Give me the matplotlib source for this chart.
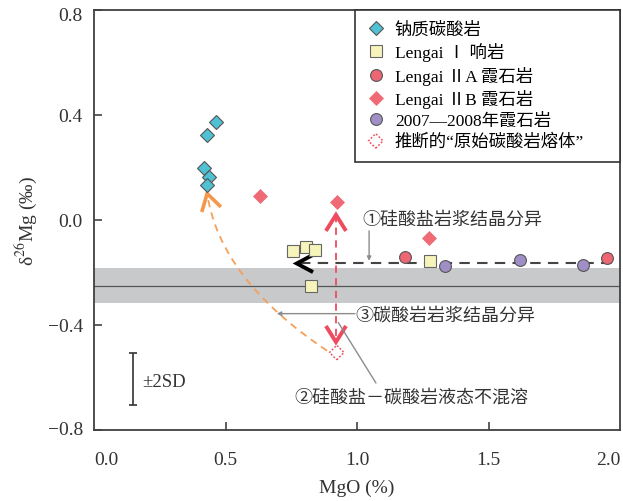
import numpy as np
import matplotlib
matplotlib.use('Agg')
import matplotlib.pyplot as plt
import matplotlib.transforms as mtransforms
from matplotlib.path import Path
from matplotlib.patches import PathPatch

plt.rcParams['font.family'] = ['Liberation Serif', 'Noto Sans CJK SC', 'DejaVu Sans']
plt.rcParams['mathtext.fontset'] = 'stix'

# 数据 (MgO %, δ26Mg ‰)
natro_mgo = [0.464, 0.428, 0.419, 0.436, 0.428]
natro_d26 = [0.371, 0.324, 0.196, 0.164, 0.132]
lengai1_mgo = [0.758, 0.806, 0.840, 0.825, 1.278]
lengai1_d26 = [-0.119, -0.105, -0.115, -0.250, -0.157]
lengai2a_mgo = [1.184, 1.949]
lengai2a_d26 = [-0.141, -0.147]
lengai2b_mgo = [0.631, 0.923, 1.275]
lengai2b_d26 = [0.092, 0.067, -0.070]
y0708_mgo = [1.333, 1.620, 1.858]
y0708_d26 = [-0.174, -0.153, -0.170]
melt_mgo = [0.923]
melt_d26 = [-0.505]

labels = ['钠质碳酸岩', 'Lengai Ⅰ 响岩', 'Lengai ⅡA 霞石岩', 'Lengai ⅡB 霞石岩',
          '2007—2008年霞石岩', '推断的“原始碳酸岩熔体”']

mantle_mean, mantle_lo, mantle_hi = -0.251, -0.318, -0.185
sd2_x, sd2_y, sd2 = 0.147, -0.605, 0.10
trend_y = -0.166          # 硅酸盐岩浆结晶分异趋势线
xticks = [0.0, 0.5, 1.0, 1.5, 2.0]
yticks = [0.8, 0.4, 0.0, -0.4, -0.8]

fig = plt.figure(figsize=(6.23, 5.02), dpi=100)
ax = fig.add_axes([0.1509, 0.1414, 0.8443, 0.8373])
ax.set_xlim(0, 2.0)
ax.set_ylim(-0.8, 0.8)


def chevron(tip, angle, size, spread, **kw):
    a = np.deg2rad(angle)
    pts = []
    for s in (-1, 1):
        b = a + np.pi + s * np.deg2rad(spread)
        pts.append((tip[0] + size * np.cos(b), tip[1] + size * np.sin(b)))
    ax.plot([pts[0][0], tip[0], pts[1][0]], [pts[0][1], tip[1], pts[1][1]],
            solid_joinstyle='miter', solid_capstyle='butt', **kw)


# 地幔值灰带
ax.axhspan(mantle_lo, mantle_hi, color='#c8c9cb', lw=0, zorder=0)
ax.axhline(mantle_mean, color='#555555', lw=0.9, zorder=1)

# ① 硅酸盐岩浆结晶分异
ax.plot([0.783, 1.97], [trend_y, trend_y], color='#444444', lw=1.5,
        ls=(0, (5, 3.5)), zorder=2)
chevron((0.771, trend_y), 180, 0.07, 28, color='black', lw=2.8, zorder=3)

# ② 液态不混溶
top_tip = (melt_mgo[0] - 0.003, 0.019)
bot_tip = (melt_mgo[0] - 0.003, -0.465)
ax.plot([top_tip[0], bot_tip[0]], [top_tip[1], bot_tip[1]], color='#ee4b5e',
        lw=1.3, ls=(0, (4, 3)), zorder=2)
chevron(top_tip, 90, 0.072, 32, color='#ee4b5e', lw=2.8, zorder=3)
chevron(bot_tip, -90, 0.072, 32, color='#ee4b5e', lw=2.8, zorder=3)

# ③ 碳酸岩岩浆结晶分异
orange_tip = (0.430, 0.100)
curve = Path([(0.886, -0.498), (0.479, -0.226), orange_tip],
             [Path.MOVETO, Path.CURVE3, Path.CURVE3])
ax.add_patch(PathPatch(curve, fill=False, ec='#f5a05a', lw=1.3,
                       ls=(0, (4, 3)), zorder=2))
chevron(orange_tip, 105, 0.073, 31, color='#f5974a', lw=2.6, zorder=3)

# 数据点
ax.plot(natro_mgo, natro_d26, 'D', ms=7, mfc='#4fc1d3', mec='#555555', mew=0.8,
        ls='none', label=labels[0], zorder=5)
ax.plot(lengai1_mgo, lengai1_d26, 's', ms=8, mfc='#f6f4bb', mec='#666666', mew=0.8,
        ls='none', label=labels[1], zorder=5)
ax.plot(lengai2a_mgo, lengai2a_d26, 'o', ms=8.5, mfc='#ee6673', mec='#555555', mew=0.8,
        ls='none', label=labels[2], zorder=5)
ax.plot(lengai2b_mgo, lengai2b_d26, 'D', ms=7, mfc='#ef6a75', mec='#ef6a75', mew=0.5,
        ls='none', label=labels[3], zorder=5)
ax.plot(y0708_mgo, y0708_d26, 'o', ms=8.5, mfc='#a08ec6', mec='#555555', mew=0.8,
        ls='none', label=labels[4], zorder=6)
ax.scatter(melt_mgo, melt_d26, s=55, marker='D', facecolors='white',
           edgecolors='#f0505f', linewidths=1.1, linestyle=(0, (1.2, 1.2)),
           label=labels[5], zorder=5)

# ±2SD
ax.errorbar([sd2_x], [sd2_y], yerr=[sd2], fmt='none', ecolor='#333333',
            elinewidth=1.2, capsize=3, capthick=1.2)
ax.text(sd2_x + 0.036, sd2_y - 0.012, '±2SD', fontsize=13.5, color='#333333',
        va='center', ha='left')

# 注释文字
note_kw = dict(fontsize=13, color='#333333', va='center', ha='left',
               family=['Noto Sans CJK SC', 'DejaVu Sans'])
ax.text(1.021, 0.003, '①硅酸盐岩浆结晶分异', **note_kw)
ax.text(0.994, -0.359, '③碳酸岩岩浆结晶分异', **note_kw)
ax.text(0.762, -0.672, '②硅酸盐－碳酸岩液态不混溶', **note_kw)

lead = dict(arrowstyle='-|>', color='#8c8c8c', lw=1.0, mutation_scale=6,
            shrinkA=0, shrinkB=0)
ax.annotate('', xy=(1.046, -0.156), xytext=(1.046, -0.042), arrowprops=lead)
ax.annotate('', xy=(0.695, -0.357), xytext=(0.992, -0.357), arrowprops=lead)
ax.annotate('', xy=(0.929, -0.391), xytext=(1.072, -0.621),
            arrowprops=dict(arrowstyle='-', color='#8c8c8c', lw=1.0,
                            shrinkA=0, shrinkB=0))

# 坐标轴
for sp in ax.spines.values():
    sp.set_color('#404040')
    sp.set_linewidth(1.3)
ax.set_xticks(xticks)
ax.set_xticklabels([f'{v:.1f}' for v in xticks])
ax.set_yticks(yticks)
ax.set_yticklabels([f'{v:.1f}'.replace('-', '\u2212') for v in yticks])
ax.tick_params(axis='x', direction='in', length=6, width=1.1, pad=15,
               labelsize=14, colors='#333333')
ax.tick_params(axis='y', direction='in', length=5.5, width=1.1, pad=8,
               labelsize=14, colors='#333333')
xt = ax.xaxis.get_major_ticks()
for t in (xt[0], xt[-1]):
    t.tick1line.set_visible(False)
ax.get_xticklabels()[0].set_ha('left')
ax.get_xticklabels()[-1].set_ha('right')
ylab = ax.get_yticklabels()
ylab[0].set_transform(ylab[0].get_transform() +
                      mtransforms.ScaledTranslation(0, -4 / 100, fig.dpi_scale_trans))
ylab[-1].set_transform(ylab[-1].get_transform() +
                       mtransforms.ScaledTranslation(0, 3 / 100, fig.dpi_scale_trans))
ax.set_xlabel('MgO (%)', fontsize=14, color='#333333', labelpad=8)
ax.set_ylabel('δ$^{26}$Mg (‰)', fontsize=14, color='#333333', labelpad=6)

ax.legend(loc='upper left', bbox_to_anchor=(0.496, 0.0, 0.504, 1.0),
          mode='expand', borderaxespad=0, handlelength=1.0,
          handletextpad=0.6, borderpad=0.7, labelspacing=0.25,
          frameon=True, fancybox=False, edgecolor='#333333', framealpha=1,
          prop={'family': ['Liberation Serif', 'Noto Sans CJK SC'], 'size': 12.5})
ax.get_legend().get_frame().set_linewidth(1.2)

fig.savefig('out.png', dpi=100)
